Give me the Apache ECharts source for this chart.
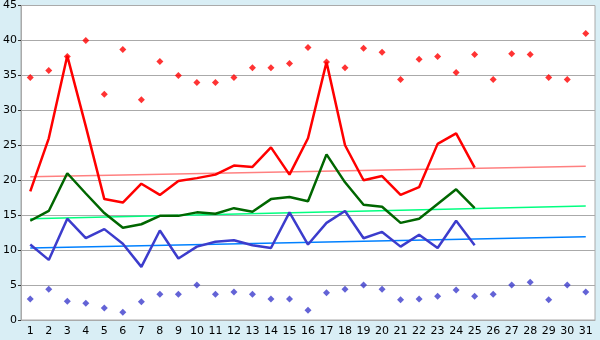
<!DOCTYPE html>
<html>
<head>
<meta charset="utf-8">
<script src="https://cdn.jsdelivr.net/npm/echarts@6/dist/echarts.min.js"></script>
<style>
  html, body { margin: 0; padding: 0; background: #d9eef5; }
  #chart { width: 600px; height: 340px; }
</style>
</head>
<body>
<div id="chart"></div>
<script>
// Days of the month
const days = Array.from({ length: 31 }, (_, i) => String(i + 1));

// Daily maximum (red markers)
const maxVals = [34.7, 35.7, 37.7, 40.0, 32.3, 38.7, 31.5, 37.0, 35.0, 34.0,
                 34.0, 34.7, 36.1, 36.1, 36.7, 39.0, 36.9, 36.1, 38.9, 38.3,
                 34.4, 37.3, 37.7, 35.4, 38.0, 34.4, 38.1, 38.0, 34.7, 34.4, 41.0];

// Daily minimum (blue markers)
const minVals = [3.0, 4.4, 2.7, 2.4, 1.7, 1.1, 2.6, 3.7, 3.7, 5.0,
                 3.7, 4.0, 3.7, 3.0, 3.0, 1.4, 3.9, 4.4, 5.0, 4.4,
                 2.9, 3.0, 3.4, 4.3, 3.4, 3.7, 5.0, 5.4, 2.9, 5.0, 4.0];

// Upper, middle and lower curves (first 25 days)
const redLine = [18.4, 26.0, 37.8, 27.7, 17.3, 16.8, 19.5, 17.9, 19.9, 20.3,
                 20.8, 22.1, 21.9, 24.7, 20.8, 26.0, 36.9, 25.0, 20.0, 20.6,
                 17.9, 19.0, 25.2, 26.7, 21.8];
const greenLine = [14.2, 15.6, 21.0, 18.1, 15.3, 13.2, 13.7, 14.9, 14.9, 15.4,
                   15.2, 16.0, 15.5, 17.3, 17.6, 17.0, 23.7, 19.7, 16.5, 16.2,
                   13.9, 14.5, 16.6, 18.7, 16.0];
const blueLine = [10.8, 8.6, 14.5, 11.7, 13.0, 10.9, 7.6, 12.8, 8.8, 10.5,
                  11.2, 11.4, 10.7, 10.3, 15.4, 10.8, 13.9, 15.6, 11.7, 12.6,
                  10.5, 12.2, 10.3, 14.2, 10.7];

// Trend lines: value on the first and on the last day
const redTrend = [20.5, 22.0];
const greenTrend = [14.5, 16.3];
const blueTrend = [10.3, 11.9];

// Y-axis ticks
const yMin = 0, yMax = 45, yStep = 5;

function trendData(ends) {
  return [[days[0], ends[0]], [days[days.length - 1], ends[1]]];
}

function trendSeries(ends, color) {
  return {
    type: 'line', data: trendData(ends), symbol: 'none', silent: true,
    lineStyle: { color: color, width: 1.5 }, z: 1
  };
}

function curveSeries(vals, color, width) {
  return {
    type: 'line', data: vals, symbol: 'none', silent: true,
    lineStyle: { color: color, width: width }, z: 3
  };
}

function markerSeries(vals, color) {
  return {
    type: 'scatter', data: vals, symbol: 'diamond', symbolSize: 7,
    itemStyle: { color: color }, silent: true, z: 4
  };
}

const chart = echarts.init(document.getElementById('chart'), null, { renderer: 'canvas' });
chart.setOption({
  animation: false,
  backgroundColor: '#d9eef5',
  textStyle: { fontFamily: 'DejaVu Sans' },
  grid: {
    left: 20, right: 5, top: 5, bottom: 20,
    show: true, backgroundColor: '#ffffff', borderColor: '#aaaaaa', borderWidth: 1
  },
  xAxis: {
    type: 'category', data: days, boundaryGap: true,
    axisLine: { lineStyle: { color: '#aaaaaa', width: 1 } },
    axisTick: { alignWithLabel: true, length: 5, lineStyle: { color: '#333333' } },
    axisLabel: { color: '#000000', fontSize: 11, margin: 6, interval: 0 },
    splitLine: { show: false }
  },
  yAxis: {
    type: 'value', min: yMin, max: yMax, interval: yStep,
    axisLine: { show: true, lineStyle: { color: '#aaaaaa', width: 1 } },
    axisTick: { show: true, length: 3, lineStyle: { color: '#333333' } },
    axisLabel: { color: '#000000', fontSize: 11, margin: 4 },
    splitLine: { lineStyle: { color: '#aaaaaa', width: 1 } }
  },
  series: [
    trendSeries(redTrend, '#ff8080'),
    trendSeries(greenTrend, '#00ff80'),
    trendSeries(blueTrend, '#0080ff'),
    curveSeries(redLine, '#ff0000', 2.5),
    curveSeries(greenLine, '#006600', 2.5),
    curveSeries(blueLine, '#3c3ccc', 2.5),
    markerSeries(maxVals, '#ff0000'),
    markerSeries(minVals, '#3c3ccc')
  ]
});
</script>
</body>
</html>
